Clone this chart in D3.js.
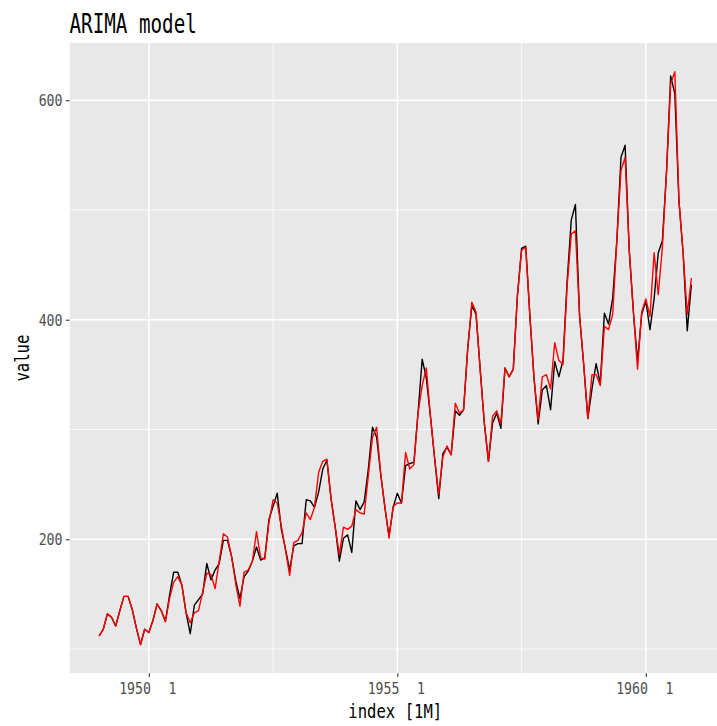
<!DOCTYPE html>
<html>
<head>
<meta charset="utf-8">
<script src="https://cdn.jsdelivr.net/npm/d3@7"></script>
<style>
  html, body { margin: 0; padding: 0; background: #ffffff; }
  svg { display: block; }
  text { font-family: "DejaVu Sans Mono", "Liberation Mono", monospace; }
</style>
</head>
<body>
<svg id="chart" width="717" height="726"></svg>
<script>
// ---- data ----
const startYear = 1949;
const actual = [
  112,118,132,129,121,135,148,148,136,119,104,118,
  115,126,141,135,125,149,170,170,158,133,114,140,
  145,150,178,163,172,178,199,199,184,162,146,166,
  171,180,193,181,183,218,230,242,209,191,172,194,
  196,196,236,235,229,243,264,272,237,211,180,201,
  204,188,235,227,234,264,302,293,259,229,203,229,
  242,233,267,269,270,315,364,347,312,274,237,278,
  284,277,317,313,318,374,413,405,355,306,271,306,
  315,301,356,348,355,422,465,467,404,347,305,336,
  340,318,362,348,363,435,491,505,404,359,310,337,
  360,342,406,396,420,472,548,559,463,407,362,405,
  417,391,419,461,472,535,622,606,508,461,390,432
];
const fitted = [
  112,118,132,129,121,135,148,148,136,119,104,118,
  115,126,141,135,125,146,161,166,158,133,124,133,
  135,152,169,168,155,180,205,202,184,159,139,170,
  172,180,207,183,182,215,236,233,212,190,167,197,
  199,206,224,218,229,261,271,273,237,211,186,211,
  209,212,227,224,223,258,293,302,259,229,201,230,
  233,233,279,264,268,315,340,356,312,274,241,275,
  285,277,324,315,318,374,416,407,355,306,271,312,
  317,305,356,348,355,422,463,466,404,347,309,348,
  350,337,379,363,359,431,478,481,404,359,310,350,
  350,340,394,391,405,472,536,548,463,407,355,407,
  419,403,461,423,466,535,615,626,508,461,405,438
];
const xTickYears = [1950, 1955, 1960];
const xTickMonthLabel = ["1", "1", "1"];
const xMinorYears = [1952.5, 1957.5];
const yTicks = [200, 400, 600];
const yMinor = [100, 300, 500];
const titleText = "ARIMA model";
const xTitle = "index [1M]";
const yTitle = "value";

// ---- layout ----
const svg = d3.select("#chart");
const W = 717, H = 726;
const panel = { left: 69.5, right: 721, top: 43, bottom: 673.3 };

const t = actual.map((_, i) => startYear + i / 12);
const tMin = d3.min(t), tMax = d3.max(t);
const tPad = (tMax - tMin) * 0.05;
const x = d3.scaleLinear().domain([tMin - tPad, tMax + tPad]).range([panel.left, panel.right]);

const allV = actual.concat(fitted);
const vMin = d3.min(allV), vMax = d3.max(allV);
const vPad = (vMax - vMin) * 0.05;
const y = d3.scaleLinear().domain([vMin - vPad, vMax + vPad]).range([panel.bottom, panel.top]);

svg.append("rect").attr("width", W).attr("height", H).attr("fill", "#ffffff");

svg.append("defs").append("clipPath").attr("id", "pclip")
  .append("rect").attr("x", panel.left).attr("y", panel.top)
  .attr("width", panel.right - panel.left).attr("height", panel.bottom - panel.top);

const g = svg.append("g").attr("clip-path", "url(#pclip)");
g.append("rect").attr("x", panel.left).attr("y", panel.top)
  .attr("width", panel.right - panel.left).attr("height", panel.bottom - panel.top)
  .attr("fill", "#E8E8E8");

// minor grid
g.selectAll(".ymin").data(yMinor).enter().append("line")
  .attr("x1", panel.left).attr("x2", panel.right)
  .attr("y1", d => y(d)).attr("y2", d => y(d))
  .attr("stroke", "#ffffff").attr("stroke-width", 0.8);
g.selectAll(".xmin").data(xMinorYears).enter().append("line")
  .attr("y1", panel.top).attr("y2", panel.bottom)
  .attr("x1", d => x(d)).attr("x2", d => x(d))
  .attr("stroke", "#ffffff").attr("stroke-width", 0.8);
// major grid
g.selectAll(".ymaj").data(yTicks).enter().append("line")
  .attr("x1", panel.left).attr("x2", panel.right)
  .attr("y1", d => y(d)).attr("y2", d => y(d))
  .attr("stroke", "#ffffff").attr("stroke-width", 1.5);
g.selectAll(".xmaj").data(xTickYears).enter().append("line")
  .attr("y1", panel.top).attr("y2", panel.bottom)
  .attr("x1", d => x(d)).attr("x2", d => x(d))
  .attr("stroke", "#ffffff").attr("stroke-width", 1.5);

// lines
const line = d3.line().x((d, i) => x(t[i])).y(d => y(d));
g.append("path").datum(actual).attr("d", line)
  .attr("fill", "none").attr("stroke", "#000000").attr("stroke-width", 1.4)
  .attr("stroke-linejoin", "round");
g.append("path").datum(fitted).attr("d", line)
  .attr("fill", "none").attr("stroke", "#FF0000").attr("stroke-width", 1.4)
  .attr("stroke-linejoin", "round");

// axes (ticks)
const yAxis = d3.axisLeft(y).tickValues(yTicks).tickSize(3.6).tickFormat("");
const ya = svg.append("g").attr("transform", `translate(${panel.left},0)`).call(yAxis);
ya.select(".domain").remove();
ya.selectAll(".tick line").attr("stroke", "#333333").attr("stroke-width", 1.1);

const xAxis = d3.axisBottom(x).tickValues(xTickYears).tickSize(3.6).tickFormat("");
const xa = svg.append("g").attr("transform", `translate(0,${panel.bottom})`).call(xAxis);
xa.select(".domain").remove();
xa.selectAll(".tick line").attr("stroke", "#333333").attr("stroke-width", 1.1);

// tick labels
const sxTick = 0.8;
svg.selectAll(".ylab").data(yTicks).enter().append("text")
  .attr("transform", d => `translate(${panel.left - 7},${y(d) + 5.8}) scale(${sxTick},1)`)
  .attr("text-anchor", "end").attr("font-size", 16.5).attr("fill", "#4D4D4D")
  .text(d => d);

const xl = svg.selectAll(".xlab").data(xTickYears).enter().append("text")
  .attr("transform", d => `translate(${x(d) - 1},${panel.bottom + 20.5}) scale(${sxTick},1)`)
  .attr("text-anchor", "middle").attr("font-size", 16.5).attr("fill", "#4D4D4D");
xl.append("tspan").text(d => d);
xl.append("tspan").attr("dx", 22).text((d, i) => xTickMonthLabel[i]);

// axis titles
svg.append("text")
  .attr("transform", `translate(${(panel.left + panel.right) / 2},${717.5}) scale(0.8,1)`)
  .attr("text-anchor", "middle").attr("font-size", 19.5).attr("fill", "#000000")
  .text(xTitle);
svg.append("text")
  .attr("transform", `translate(${29},${(panel.top + panel.bottom) / 2}) rotate(-90) scale(0.8,1)`)
  .attr("text-anchor", "middle").attr("font-size", 19.5).attr("fill", "#000000")
  .text(yTitle);

// title
svg.append("text")
  .attr("transform", `translate(${panel.left},${33}) scale(0.74,1)`)
  .attr("text-anchor", "start").attr("font-size", 26).attr("fill", "#000000")
  .text(titleText);
</script>
</body>
</html>
